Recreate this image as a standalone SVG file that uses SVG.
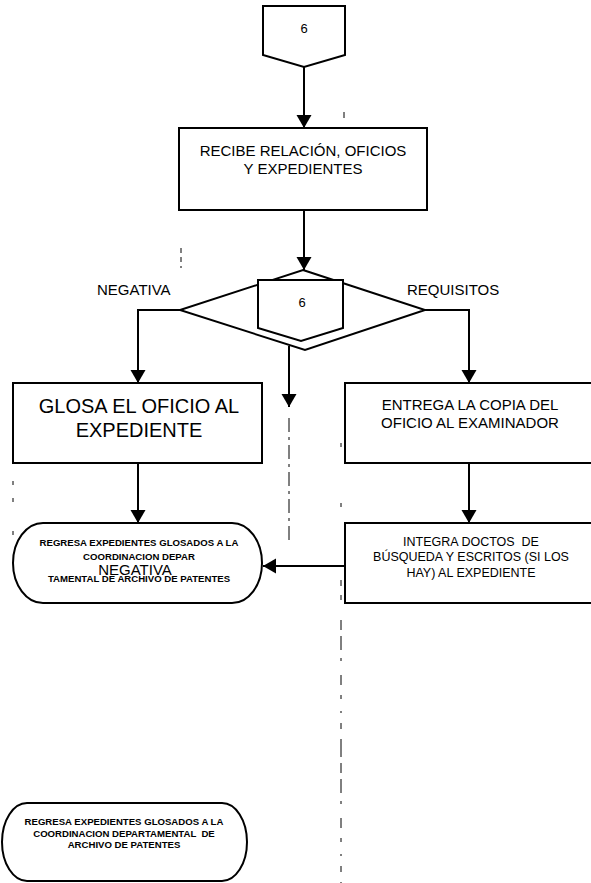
<svg xmlns="http://www.w3.org/2000/svg" width="591" height="883" viewBox="0 0 591 883">
  <style>
    .shape { fill: #ffffff; stroke: #000000; stroke-width: 2; }
    .conn { fill: none; stroke: #000000; stroke-width: 2; }
    .lane { fill: none; stroke: #000000; stroke-width: 1; }
    text { font-family: "Liberation Sans", Arial, sans-serif; fill: #000000; text-anchor: middle; }
    .t15 { font-size: 15px; }
    .t13 { font-size: 13px; }
    .t20 { font-size: 20px; }
    .t12 { font-size: 12.5px; }
    .t10 { font-size: 9.6px; font-weight: bold; }
    .lbl { font-size: 15px; text-anchor: start; }
  </style>
  <defs>
    <marker id="arrow" markerUnits="userSpaceOnUse" markerWidth="14" markerHeight="16" refX="13" refY="7.5" orient="auto">
      <path d="M0,0 L13,7.5 L0,15 Z" fill="#000000"/>
    </marker>
  </defs>
  <rect x="0" y="0" width="591" height="883" fill="#ffffff"/>

  <g id="lanes">
    <line class="lane" x1="181" y1="248" x2="181" y2="268" stroke-dasharray="5 4"/>
    <line class="lane" x1="344" y1="112" x2="344" y2="118"/>
    <line class="lane" x1="289" y1="418" x2="289" y2="540" stroke-dasharray="14 5 3 5"/>
    <line class="lane" x1="341" y1="443" x2="341" y2="447"/>
    <line class="lane" x1="341" y1="503" x2="341" y2="507"/>
    <line class="lane" x1="341" y1="580" x2="341" y2="586"/>
    <line class="lane" x1="341" y1="595" x2="341" y2="600"/>
    <line class="lane" x1="341" y1="620" x2="341" y2="883" stroke-dasharray="10 6 14 8 3 14 10 10 4 12 2 10 6 10 18 6"/>
    <line class="lane" x1="13" y1="481" x2="13" y2="485"/>
    <line class="lane" x1="13" y1="498" x2="13" y2="502"/>
    <line class="lane" x1="13" y1="531" x2="13" y2="535"/>
  </g>

  <g id="connectors">
    <line class="conn" x1="304" y1="67" x2="304" y2="128" marker-end="url(#arrow)"/>
    <line class="conn" x1="304" y1="210" x2="304" y2="270" marker-end="url(#arrow)"/>
    <polyline class="conn" points="180,310 138,310 138,383" marker-end="url(#arrow)"/>
    <polyline class="conn" points="425,310 469,310 469,383" marker-end="url(#arrow)"/>
    <line class="conn" x1="289" y1="346" x2="289" y2="407" marker-end="url(#arrow)"/>
    <line class="conn" x1="138" y1="463" x2="138" y2="523" marker-end="url(#arrow)"/>
    <line class="conn" x1="469" y1="463" x2="469" y2="523" marker-end="url(#arrow)"/>
    <line class="conn" x1="345" y1="566" x2="263" y2="566" marker-end="url(#arrow)"/>
  </g>

  <g id="connector-top">
    <polygon class="shape" points="263,6 345,6 345,55 304,67 263,55"/>
    <text class="t13" x="304" y="33">6</text>
  </g>

  <g id="recibe">
    <rect class="shape" x="179" y="128" width="248" height="82"/>
    <text class="t15" x="303" y="156">RECIBE RELACIÓN, OFICIOS</text>
    <text class="t15" x="303" y="174">Y EXPEDIENTES</text>
  </g>

  <g id="decision">
    <polygon class="shape" points="303,270 425,310 305,350 180,310"/>
  </g>

  <g id="connector-mid">
    <polygon class="shape" points="258,280 343,280 343,328 301,341 258,328"/>
    <text class="t13" x="302" y="307">6</text>
  </g>

  <g id="labels">
    <text class="lbl" x="97" y="295">NEGATIVA</text>
    <text class="lbl" x="407" y="295">REQUISITOS</text>
  </g>

  <g id="glosa">
    <rect class="shape" x="13" y="383" width="249" height="80"/>
    <text class="t20" x="139" y="413">GLOSA EL OFICIO AL</text>
    <text class="t20" x="139" y="437">EXPEDIENTE</text>
  </g>

  <g id="entrega">
    <rect class="shape" x="345" y="383" width="251" height="80"/>
    <text class="t15" x="470" y="410">ENTREGA LA COPIA DEL</text>
    <text class="t15" x="470" y="428">OFICIO AL EXAMINADOR</text>
  </g>

  <g id="regresa-1">
    <rect class="shape" x="13" y="523" width="249" height="80" rx="30" ry="40"/>
    <text class="t10" x="139" y="546">REGRESA EXPEDIENTES GLOSADOS A LA</text>
    <text class="t10" x="139" y="560">COORDINACION DEPAR</text>
    <text class="t15" x="135" y="575">NEGATIVA</text>
    <text class="t10" x="139" y="582">TAMENTAL DE ARCHIVO DE PATENTES</text>
  </g>

  <g id="integra">
    <rect class="shape" x="345" y="523" width="251" height="80"/>
    <text class="t12" x="471" y="546" xml:space="preserve">INTEGRA DOCTOS  DE</text>
    <text class="t12" x="471" y="561">BÚSQUEDA Y ESCRITOS (SI LOS</text>
    <text class="t12" x="471" y="577">HAY) AL EXPEDIENTE</text>
  </g>

  <g id="regresa-2">
    <rect class="shape" x="2" y="803" width="245" height="78" rx="25" ry="39"/>
    <text class="t10" x="124" y="825">REGRESA EXPEDIENTES GLOSADOS A LA</text>
    <text class="t10" x="124" y="837" xml:space="preserve">COORDINACION DEPARTAMENTAL  DE</text>
    <text class="t10" x="124" y="848">ARCHIVO DE PATENTES</text>
  </g>
</svg>
